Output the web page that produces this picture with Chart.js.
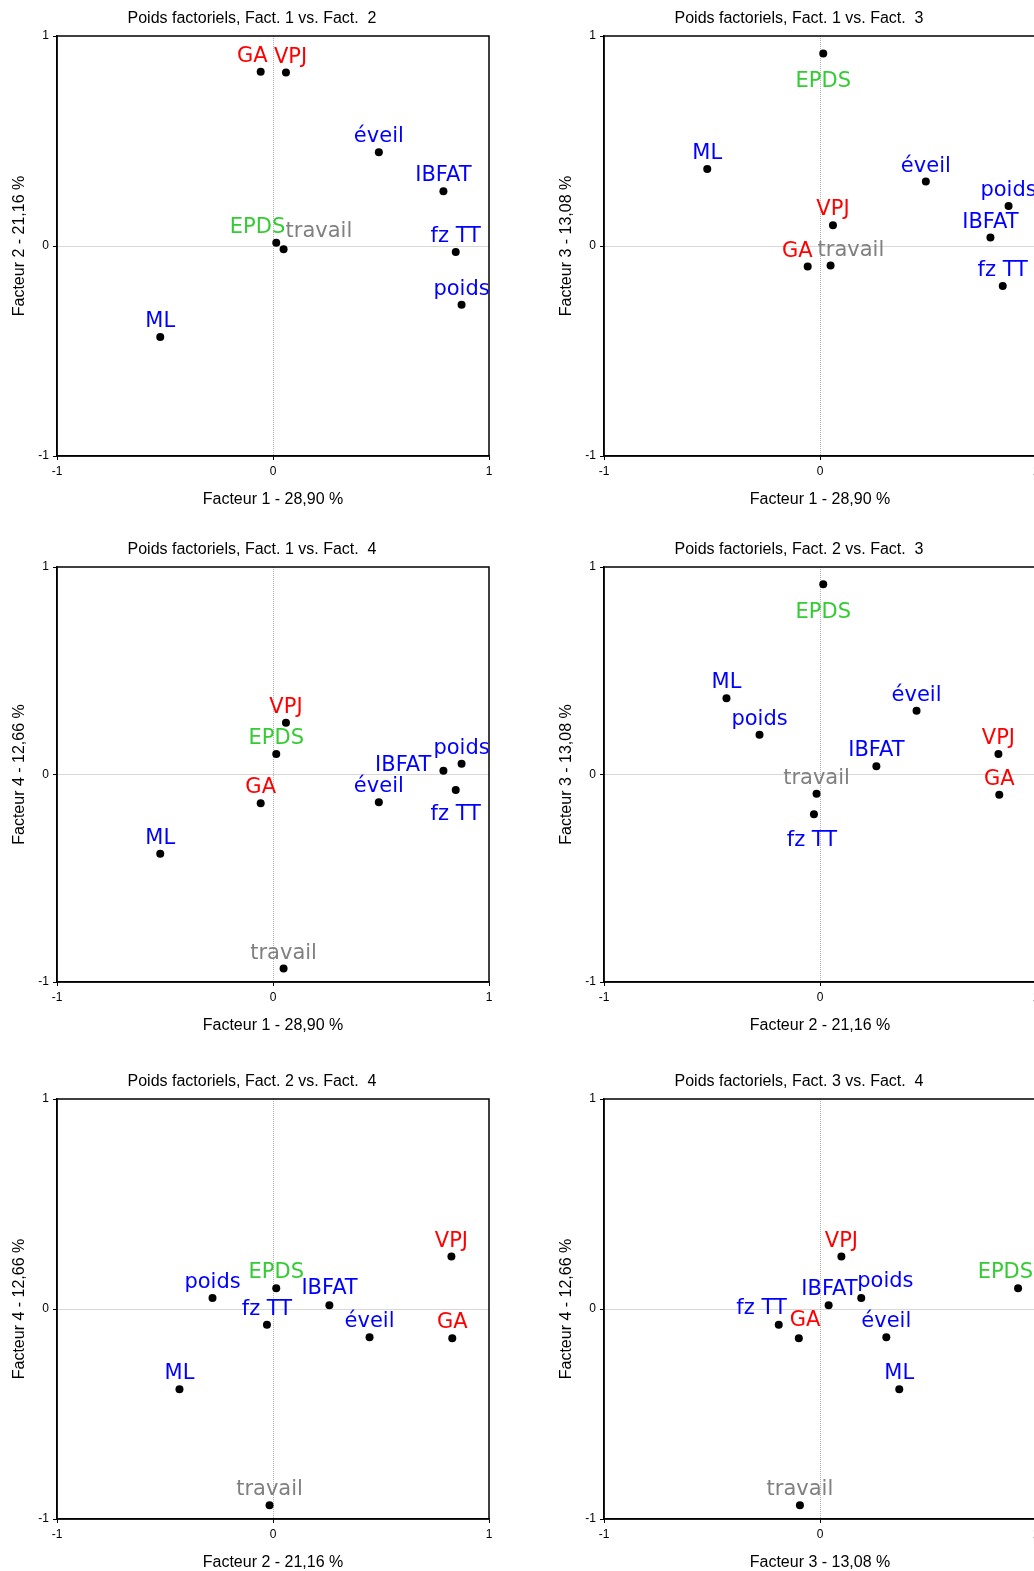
<!DOCTYPE html>
<html>
<head>
<meta charset="utf-8">
<title>Poids factoriels</title>
<script src="https://cdn.jsdelivr.net/npm/chart.js@4.4.1/dist/chart.umd.min.js"></script>
<style>
  html, body { margin: 0; padding: 0; background: #fff; overflow: hidden; }
  #page { position: relative; width: 1034px; height: 1571px; overflow: hidden; }
  .cell { position: absolute; width: 504px; height: 531px; }
</style>
</head>
<body>
<div id="page">
  <div class="cell" style="left:0;top:0"><canvas id="f1-f2" width="504" height="531"></canvas></div>
  <div class="cell" style="left:547px;top:0"><canvas id="f1-f3" width="504" height="531"></canvas></div>
  <div class="cell" style="left:0;top:531px"><canvas id="f1-f4" width="504" height="531"></canvas></div>
  <div class="cell" style="left:547px;top:531px"><canvas id="f2-f3" width="504" height="531"></canvas></div>
  <div class="cell" style="left:0;top:1063px"><canvas id="f2-f4" width="504" height="531"></canvas></div>
  <div class="cell" style="left:547px;top:1063px"><canvas id="f3-f4" width="504" height="531"></canvas></div>
</div>
<script>
// variables and their loadings on the 4 factors
const variables = ['GA', 'VPJ', 'éveil', 'IBFAT', 'EPDS', 'travail', 'fz TT', 'poids', 'ML'];
const fact1 = [-0.057, 0.060, 0.490, 0.789, 0.015, 0.049, 0.846, 0.873, -0.522];
const fact2 = [0.830, 0.826, 0.447, 0.261, 0.015, -0.016, -0.028, -0.280, -0.433];
const fact3 = [-0.098, 0.099, 0.307, 0.040, 0.917, -0.093, -0.191, 0.191, 0.367];
const fact4 = [-0.139, 0.250, -0.134, 0.018, 0.099, -0.935, -0.075, 0.052, -0.382];
const variance = ['28,90', '21,16', '13,08', '12,66'];
const tickValues = [-1, 0, 1];

const factors = [fact1, fact2, fact3, fact4];

// label colours (one per variable)
const labelColors = ['#ff0000', '#ff0000', '#0000ff', '#0000ff', '#33cc33', '#808080', '#0000ff', '#0000ff', '#0000ff'];

const sansFont = "'Liberation Sans', Arial, sans-serif";
const labelFont = "21px 'DejaVu Sans', sans-serif";

// frame round the plot area
const framePlugin = {
  id: 'frame',
  beforeDatasetsDraw: function(chart) {
    const ctx = chart.ctx, a = chart.chartArea;
    ctx.save();
    ctx.strokeStyle = '#000';
    ctx.lineWidth = 1.5;
    ctx.strokeRect(a.left, a.top, a.right - a.left, a.bottom - a.top);
    ctx.restore();
  }
};

// variable names next to the points
const varLabelsPlugin = {
  id: 'varLabels',
  afterDatasetsDraw: function(chart, args, opts) {
    const ctx = chart.ctx;
    const meta = chart.getDatasetMeta(0);
    const offsets = opts.offsets || {};
    ctx.save();
    ctx.font = labelFont;
    ctx.textBaseline = 'alphabetic';
    meta.data.forEach(function(pt, i) {
      const name = variables[i];
      const o = offsets[name] || {};
      ctx.fillStyle = labelColors[i];
      ctx.textAlign = o.align || 'center';
      ctx.fillText(name, pt.x + (o.dx || 0), pt.y + (o.dy === undefined ? -10 : o.dy));
    });
    ctx.restore();
  }
};

function axisOptions(f, dir) {
  return {
    type: 'linear',
    min: -1,
    max: 1,
    afterBuildTicks: function(scale) {
      scale.ticks = tickValues.map(v => ({ value: v }));
    },
    afterFit: function(scale) {
      if (dir === 'x') scale.height = 60; else scale.width = 57;
    },
    ticks: {
      color: '#000',
      padding: 4,
      font: { family: sansFont, size: 12 }
    },
    grid: {
      color: function(c) { return c.tick && c.tick.value === 0 ? '#b0b0b0' : 'rgba(0,0,0,0)'; },
      lineWidth: 1,
      tickColor: '#000',
      tickLength: 4
    },
    border: { display: true, color: '#000', width: 1.5, dash: [1, 1] },
    title: {
      display: true,
      text: 'Facteur ' + f + ' - ' + variance[f - 1] + ' %',
      color: '#000',
      font: { family: sansFont, size: 16, lineHeight: 1.2 },
      padding: dir === 'x' ? { top: 0, bottom: 7 } : { top: 9.5, bottom: 0 }
    }
  };
}

// empty strip on the right so the title stays centred on the whole canvas
const rightStrip = {
  type: 'linear',
  position: 'right',
  min: -1,
  max: 1,
  afterFit: function(scale) { scale.width = 15; },
  ticks: { display: false },
  grid: { display: false, drawOnChartArea: false },
  border: { display: false },
  title: { display: false }
};

function makeChart(id, fx, fy, offsets, bottomPad) {
  const xs = factors[fx - 1], ys = factors[fy - 1];
  const points = variables.map((v, i) => ({ x: xs[i], y: ys[i] }));
  new Chart(document.getElementById(id), {
    type: 'scatter',
    data: {
      datasets: [{
        data: points,
        pointRadius: 4,
        pointHoverRadius: 4,
        backgroundColor: '#000',
        borderColor: '#000',
        borderWidth: 0
      }]
    },
    options: {
      responsive: false,
      animation: false,
      layout: { padding: { left: 0, right: 0, top: 0, bottom: bottomPad } },
      scales: {
        x: axisOptions(fx, 'x'),
        y: axisOptions(fy, 'y'),
        yRight: rightStrip
      },
      plugins: {
        legend: { display: false },
        tooltip: { enabled: false },
        title: {
          display: true,
          text: 'Poids factoriels, Fact. ' + fx + ' vs. Fact.  ' + fy,
          color: '#000',
          font: { family: sansFont, size: 16, weight: 'normal', lineHeight: 1.2 },
          padding: { top: 9, bottom: 7.8 }
        },
        varLabels: { offsets: offsets }
      }
    },
    plugins: [framePlugin, varLabelsPlugin]
  });
}

makeChart('f1-f2', 1, 2, {
  'GA': { align: 'right', dx: 7 },
  'VPJ': { align: 'left', dx: -12 },
  'EPDS': { align: 'right', dx: 9 },
  'travail': { align: 'left', dx: 2, dy: -12 }
}, 15);

makeChart('f1-f3', 1, 3, {
  'EPDS': { dy: 34 },
  'GA': { align: 'right', dx: 5 },
  'travail': { align: 'left', dx: -13 }
}, 15);

makeChart('f1-f4', 1, 4, {
  'IBFAT': { align: 'right', dx: -12, dy: 0 },
  'fz TT': { dy: 30 }
}, 20);

makeChart('f2-f3', 2, 3, {
  'EPDS': { dy: 34 },
  'fz TT': { dx: -2, dy: 32 }
}, 20);

makeChart('f2-f4', 2, 4, {
  'IBFAT': { align: 'left', dx: -28, dy: -11 }
}, 15);

makeChart('f3-f4', 3, 4, {
  'EPDS': { align: 'right', dx: 15 },
  'IBFAT': { align: 'right', dx: 29 },
  'poids': { align: 'left', dx: -4, dy: -11 },
  'fz TT': { align: 'right', dx: 8, dy: -11 },
  'GA': { align: 'left', dx: -9, dy: -12 }
}, 15);
</script>
</body>
</html>
